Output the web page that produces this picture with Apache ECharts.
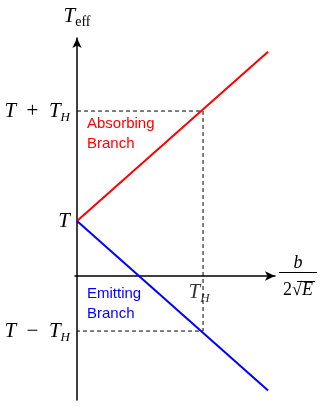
<!DOCTYPE html>
<html>
<head>
<meta charset="utf-8">
<script src="https://cdn.jsdelivr.net/npm/echarts@6/dist/echarts.min.js"></script>
<style>html,body{margin:0;padding:0;background:#fff;}#c{width:327px;height:407px;}</style>
</head>
<body>
<div id="c"></div>
<script>
// Data
const absorbing = [[0, 0.5], [1.516, 2.04]];
const emitting = [[0, 0.5], [1.516, -1.04]];
const guide = [[0, 1.5], [1, 1.5], [1, -0.5], [0, -0.5]];
const yTickValues = [1.5, 0.5, -0.5];
const yTickLabels = ['{i|T}{r|\u2002+\u2002}{i|T}{s|H}', '{i|T}', '{i|T}{r|\u2002\u2212\u2002}{i|T}{s|H}'];
const xTickValues = [1];
const xTickLabels = ['{i|T}{s|H}'];
const yName = '{i|T}{e|eff}';
const branchNames = ['Absorbing\nBranch', 'Emitting\nBranch'];

const serif = 'Liberation Serif';
const rich = {
  i: {fontFamily: serif, fontStyle: 'italic', fontSize: 21, lineHeight: 26, color: '#000'},
  r: {fontFamily: serif, fontSize: 21, lineHeight: 26, color: '#000'},
  s: {fontFamily: serif, fontStyle: 'italic', fontSize: 13, lineHeight: 15, verticalAlign: 'bottom', color: '#000'},
  e: {fontFamily: serif, fontSize: 14, lineHeight: 15, verticalAlign: 'bottom', color: '#000'}
};

const chart = echarts.init(document.getElementById('c'), null, {renderer: 'canvas'});
chart.setOption({
  animation: false,
  backgroundColor: '#fff',
  grid: {left: 75, right: 52, top: 38, bottom: 7, containLabel: false, outerBoundsMode: 'none'},
  xAxis: {
    type: 'value', min: -0.016, max: 1.571,
    splitLine: {show: false}, axisTick: {show: false},
    axisLine: {onZero: true, symbol: ['none', 'arrow'], symbolSize: [7, 10], lineStyle: {color: '#000', width: 1.5}},
    axisLabel: {show: false}
  },
  yAxis: {
    type: 'value', min: -1.127, max: 2.164,
    splitLine: {show: false}, axisTick: {show: false},
    axisLine: {onZero: true, symbol: ['none', 'arrow'], symbolSize: [7, 10], lineStyle: {color: '#000', width: 1.5}},
    axisLabel: {customValues: yTickValues, margin: 5, rich: rich,
      formatter: v => yTickLabels[yTickValues.indexOf(v)] || ''},
    name: yName, nameLocation: 'end', nameGap: 9,
    nameTextStyle: {rich: rich, align: 'center'}
  },
  series: [
    {type: 'line', data: guide, symbol: 'none', silent: true,
      lineStyle: {color: '#000', width: 1, type: [4, 3]}},
    {type: 'line', name: 'Absorbing', data: absorbing, symbol: 'none',
      lineStyle: {color: '#ff0000', width: 2}},
    {type: 'line', name: 'Emitting', data: emitting, symbol: 'none',
      lineStyle: {color: '#0000ff', width: 2}},
    {type: 'scatter', data: xTickValues.map(v => [v, 0]), symbolSize: 0, silent: true,
      label: {show: true, position: 'bottom', distance: 3, offset: [-4, 0], rich: rich,
        formatter: p => xTickLabels[p.dataIndex]}}
  ],
  graphic: [
    {type: 'text', left: 87, top: 114, style: {text: branchNames[0], fill: '#ff0000',
      font: '15px "Liberation Sans", Arial, sans-serif', lineHeight: 20}},
    {type: 'text', left: 87, top: 284, style: {text: branchNames[1], fill: '#0000ff',
      font: '15px "Liberation Sans", Arial, sans-serif', lineHeight: 20}},
    {type: 'text', x: 298, y: 263, style: {text: 'b', fill: '#000', align: 'center', verticalAlign: 'middle',
      font: 'italic 18px "Liberation Serif", serif'}},
    {type: 'line', shape: {x1: 279, y1: 272.5, x2: 317, y2: 272.5}, style: {stroke: '#000', lineWidth: 1}},
    {type: 'text', x: 298, y: 290, style: {text: '{r|2\u221A}{i|E}', align: 'center', verticalAlign: 'middle',
      rich: {r: {fontFamily: serif, fontSize: 18, fill: '#000'}, i: {fontFamily: serif, fontStyle: 'italic', fontSize: 18, fill: '#000'}}}},
    {type: 'line', shape: {x1: 297, y1: 281.5, x2: 315, y2: 281.5}, style: {stroke: '#000', lineWidth: 1}}
  ]
});
</script>
</body>
</html>
